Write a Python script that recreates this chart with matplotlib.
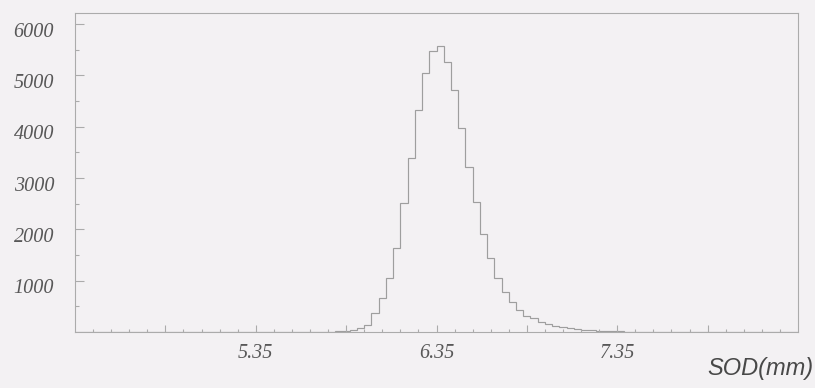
import numpy as np
import matplotlib.pyplot as plt
from matplotlib.transforms import ScaledTranslation

# histogram range / binning (mm)
x_lo = 4.35
x_hi = 8.35
n_bins = 100

# counts per bin, first non-empty bin index
first_bin = 36
counts_nz = [
    10, 20, 40, 80, 140, 365, 660, 1050, 1630, 2515,
    3385, 4320, 5040, 5465, 5580, 5270, 4720, 3970, 3220, 2540,
    1900, 1440, 1050, 785, 590, 430, 312, 267, 200, 156,
    117, 92, 72, 56, 44, 34, 26, 20, 15, 11,
    8, 6, 4, 3, 2,
]

x_major = [4.85, 5.35, 5.85, 6.35, 6.85, 7.35, 7.85]
x_major_labels = ["", "5.35", "", "6.35", "", "7.35", ""]
y_major = [1000, 2000, 3000, 4000, 5000, 6000]
y_max = 6215

bg = "#f3f1f3"
line_col = "#9e9e9e"
axis_col = "#ababab"
text_col = "#585858"

counts = np.zeros(n_bins)
counts[first_bin:first_bin + len(counts_nz)] = counts_nz
edges = np.linspace(x_lo, x_hi, n_bins + 1)

fig = plt.figure(figsize=(8.15, 3.88), dpi=100, facecolor=bg)
ax = fig.add_axes([75 / 815, 56 / 388, 723 / 815, 319 / 388], facecolor=bg)

ax.stairs(counts, edges, color=line_col, linewidth=0.85)

ax.set_xlim(x_lo, x_hi)
ax.set_ylim(0, y_max)

for s in ax.spines.values():
    s.set_color(axis_col)
    s.set_linewidth(0.8)

ax.set_xticks(x_major)
ax.set_xticklabels(x_major_labels)
ax.set_xticks(np.arange(x_lo + 0.1, x_hi - 0.05, 0.1), minor=True)
ax.set_yticks(y_major)
ax.set_yticklabels([str(v) for v in y_major])
ax.set_yticks(np.arange(500, 6001, 1000), minor=True)

ax.tick_params(axis="x", which="major", direction="in", length=5, width=0.8,
               color=axis_col, pad=9)
ax.tick_params(axis="x", which="minor", direction="in", length=2.5, width=0.8,
               color=axis_col)
ax.tick_params(axis="y", which="major", direction="in", length=6.5, width=0.8,
               color=axis_col, pad=15)
ax.tick_params(axis="y", which="minor", direction="in", length=3, width=0.8,
               color=axis_col)
ax.tick_params(top=False, right=False, which="both")

for lab in ax.get_xticklabels() + ax.get_yticklabels():
    lab.set_family("Liberation Serif")
    lab.set_style("italic")
    lab.set_fontsize(14.5)
    lab.set_color(text_col)

# nudge the y labels down a little
shift = ScaledTranslation(0, -4 / 72, fig.dpi_scale_trans)
for lab in ax.get_yticklabels():
    lab.set_transform(lab.get_transform() + shift)

fig.text(813 / 815, 1 - 369 / 388, "SOD(mm)", ha="right", va="center",
         family="Liberation Sans", style="italic", fontsize=17, color="#484848")

fig.savefig("out.png", dpi=100, facecolor=bg)
